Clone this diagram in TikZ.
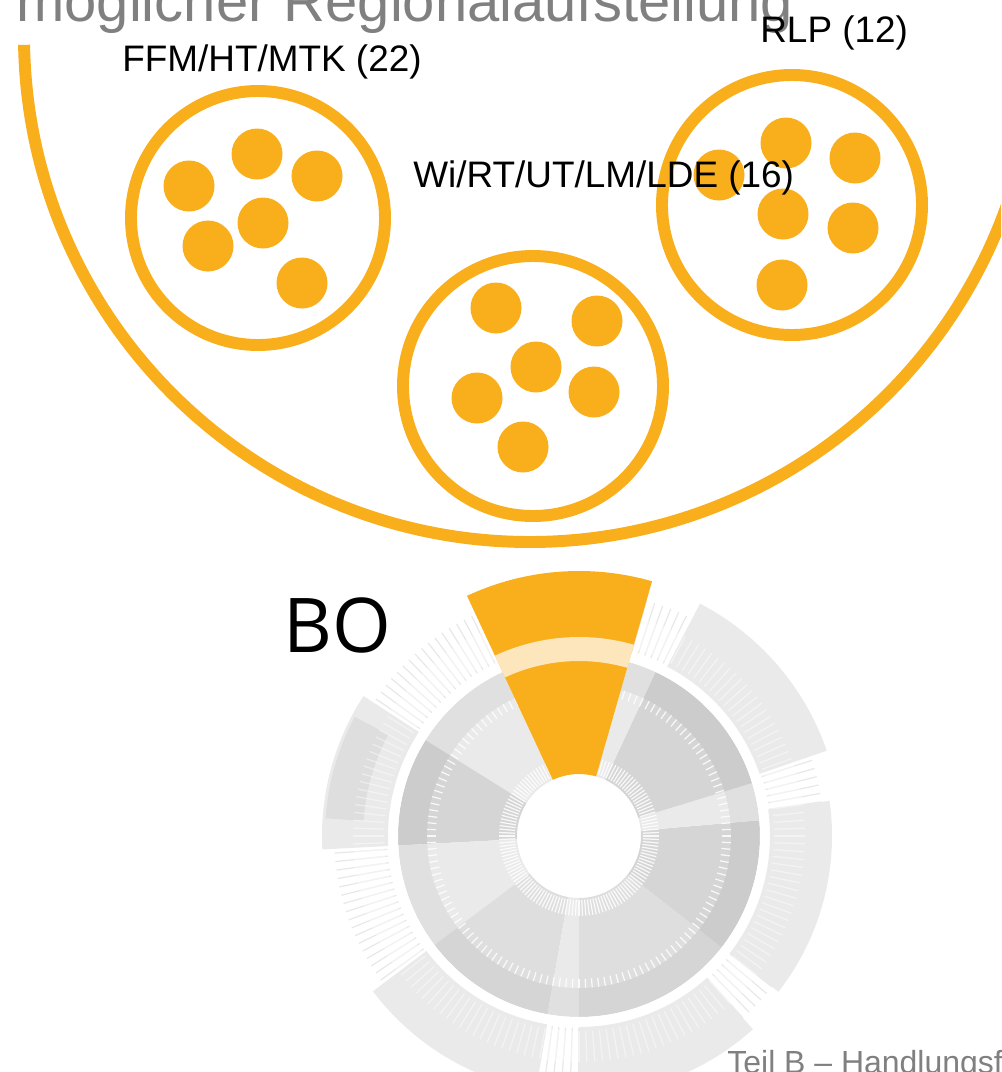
\documentclass[tikz,border=0pt]{standalone}
\usepackage{fontspec}
\setmainfont{Liberation Sans}
\newfontfamily\BOfont{Open Sans}
\usepackage{tkz-euclide}
\definecolor{RingClr}{RGB}{249,174,27}
\definecolor{TitleClr}{RGB}{128,128,128}
\definecolor{PaleClr}{RGB}{234,234,234}
\definecolor{MidClr}{RGB}{222,222,222}
\definecolor{DarkClr}{RGB}{213,213,213}
\definecolor{HatchClr}{RGB}{232,232,232}
\newcommand{\SunSeg}[5][PaleClr]{%
  \fill[#1] (#2:#4) arc[start angle=#2,end angle=#3,radius=#4]
    -- (#3:#5) arc[start angle=#3,end angle=#2,radius=#5] -- cycle;}

\begin{document}
\begin{tikzpicture}[x=0.02cm,y=0.02cm,
  ring/.style={draw=RingClr,line width=6.8pt},
  dot/.style={fill=RingClr},
  regname/.style={inner sep=0pt,anchor=base west,font=\fontsize{21}{21}\selectfont},
  sunTick/.style={white,opacity=.85,line width=.7pt},
  sunHatch/.style={HatchClr,line width=.7pt}]
\useasboundingbox (0,0) rectangle (1001,-1072);
\clip (0,0) rectangle (1001,-1072);

\tkzDefPoints{530/-36/O,258/-218/F,533/-386/W,792/-205/R,579/-836/S}

% title (cut at the top)
\node[inner sep=0pt,anchor=base west,text=TitleClr,font=\fontsize{33}{33}\selectfont]
  (title) at (16,-21) {möglicher Regionalaufstellung};

% big bowl
\draw[ring] (O) ++(181:506) arc[start angle=181,end angle=365,radius=506];

% regions
\draw[ring] (F) circle[radius=127];
\draw[ring] (W) circle[radius=130];
\draw[ring] (R) circle[radius=130];

\foreach \p in {(257,-154),(189,-186),(317,-176),(263,-223),(208,-246),(302,-283),
                (496,-308),(597,-321),(536,-367),(477,-398),(594,-392),(523,-447),
                (719,-175),(786,-143),(855,-158),(783,-214),(853,-228),(782,-285)}
  \fill[dot] \p circle[radius=25.5];

\node[regname] (ffm) at (122,-71) {FFM/HT/MTK (22)};
\node[regname] (rlp) at (760,-42) {RLP (12)};
\node[regname] (wi) at (413,-187) {Wi/RT/UT/LM/LDE (16)};

% sunburst
\node[inner sep=0pt,anchor=base west,font=\BOfont\fontsize{43}{43}\selectfont]
  (bo) at (283,-652) {BO};

\begin{scope}[shift={(S)}]
  \foreach \a in {0,2,...,358}
    \draw[sunHatch] (\a:192) -- (\a:245);
  \SunSeg[PaleClr]{115}{148}{62}{181}
  \SunSeg[DarkClr]{148}{183}{62}{181}
  \SunSeg[PaleClr]{183}{217}{62}{181}
  \SunSeg[MidClr]{217}{260}{62}{181}
  \SunSeg[PaleClr]{260}{270}{62}{181}
  \SunSeg[MidClr]{270}{322}{62}{181}
  \SunSeg[DarkClr]{322}{365}{62}{181}
  \SunSeg[PaleClr]{5}{17}{62}{181}
  \SunSeg[DarkClr]{17}{65}{62}{181}
  \SunSeg[PaleClr]{65}{74}{62}{181}
  \fill[black,opacity=.04,even odd rule] (0,0) circle[radius=181] (0,0) circle[radius=152];
  \foreach \a in {0,2.5,...,357.5}{
    \draw[sunTick] (\a:64) -- (\a:80);
    \draw[sunTick] (\a:143) -- (\a:152);}
  \draw[white,line width=5.7pt] (0,0) circle[radius=186];
  % outer level
  \SunSeg[PaleClr]{19}{62.5}{191}{262}
  \SunSeg[PaleClr]{-38}{8}{191}{253}
  \SunSeg[PaleClr]{-90}{-48}{191}{260}
  \SunSeg[PaleClr]{-143}{-99.6}{191}{258}
  \SunSeg[PaleClr]{147}{183}{191}{257}
  \SunSeg[MidClr]{152}{176}{216}{254}
  \foreach \a in {0,2,...,358}
    \draw[white,opacity=.45,line width=.7pt] (\a:195) -- (\a:226);
  % picked region
  \SunSeg[RingClr]{74}{115}{62}{265}
  \SunSeg[white,opacity=.7]{74}{115}{175}{199}
\end{scope}

\node[inner sep=0pt,anchor=base west,text=TitleClr,font=\fontsize{18.2}{18}\selectfont]
  (teil) at (727,-1073) {Teil B – Handlungsf};
\end{tikzpicture}
\end{document}
